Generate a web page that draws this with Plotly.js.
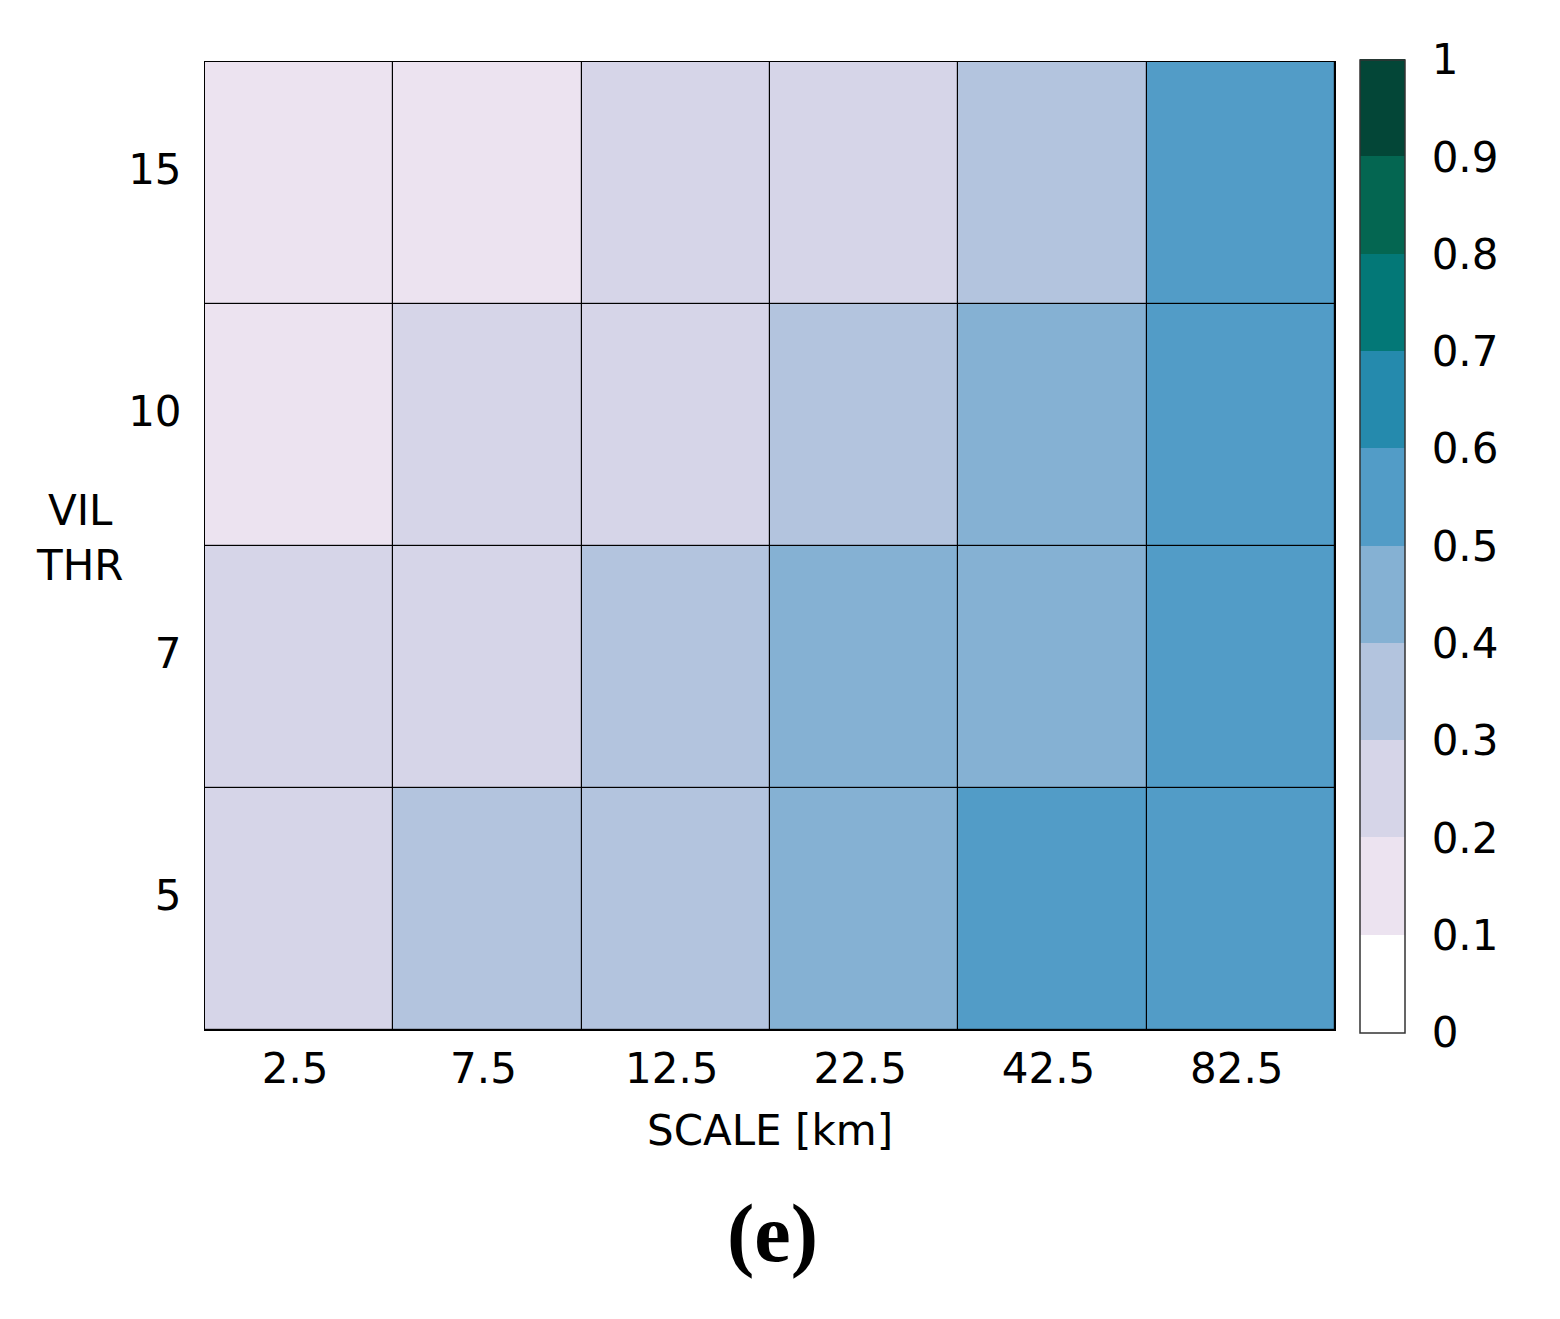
<!DOCTYPE html>
<html><head><meta charset="utf-8">
<script src="https://cdn.plot.ly/plotly-3.0.1.min.js"></script>
<style>body{margin:0;background:#fff}#chart{width:1560px;height:1319px}</style>
</head><body><div id="chart"></div>
<script>
const scales = ["2.5", "7.5", "12.5", "22.5", "42.5", "82.5"];
const thresholds = ["5", "7", "10", "15"];
const row5  = [0.25, 0.35, 0.35, 0.45, 0.55, 0.55];
const row7  = [0.25, 0.25, 0.35, 0.45, 0.45, 0.55];
const row10 = [0.15, 0.25, 0.25, 0.35, 0.45, 0.55];
const row15 = [0.15, 0.15, 0.25, 0.25, 0.35, 0.55];
const binColors = ["#ffffff", "#ece3f0", "#d6d5e8", "#b3c4de", "#85b1d3", "#529cc7", "#258aad", "#037877", "#046651", "#034637"];
const cbTicks = [0, 0.1, 0.2, 0.3, 0.4, 0.5, 0.6, 0.7, 0.8, 0.9, 1];

const cs = [];
binColors.forEach((c, i) => { cs.push([i / 10, c]); cs.push([(i + 1) / 10, c]); });

const font = "DejaVu Sans, sans-serif";
const trace = {
  type: "heatmap",
  x: scales, y: thresholds,
  z: [row5, row7, row10, row15],
  zmin: 0, zmax: 1,
  colorscale: cs,
  xgap: 1.2, ygap: 1.2,
  hoverinfo: "skip",
  colorbar: {
    x: 1.022, xanchor: "left", xpad: 0, ypad: 0,
    y: 0.5, yanchor: "middle",
    thickness: 45, thicknessmode: "pixels",
    len: 973, lenmode: "pixels",
    outlinewidth: 1.5, outlinecolor: "#333",
    tickvals: cbTicks, ticktext: cbTicks.map(String),
    ticks: "outside", ticklen: 18, tickcolor: "rgba(0,0,0,0)",
    tickfont: {family: font, size: 42, color: "#000"}
  }
};
const layout = {
  width: 1560, height: 1319,
  margin: {l: 205, r: 225, t: 62, b: 289},
  paper_bgcolor: "#fff", plot_bgcolor: "#000",
  xaxis: {type: "category", showgrid: false, zeroline: false, showline: true, mirror: true, linecolor: "#000", linewidth: 1,
    ticks: "", tickfont: {family: font, size: 42, color: "#000"}, ticklabelstandoff: 2, ticklabelshift: -4},
  yaxis: {type: "category", showgrid: false, zeroline: false, showline: true, mirror: true, linecolor: "#000", linewidth: 1,
    ticks: "", tickfont: {family: font, size: 42, color: "#000"}, ticklabelstandoff: 14, ticklabelshift: -14},
  annotations: [
    {text: "SCALE [km]", xref: "paper", yref: "paper", x: 0.50, y: -0.104, xanchor: "center", yanchor: "middle", showarrow: false,
     font: {family: font, size: 42, color: "#000"}},
    {text: "VIL<br>THR", xref: "paper", yref: "paper", x: -0.111, y: 0.508, xanchor: "center", yanchor: "middle", showarrow: false,
     font: {family: font, size: 42, color: "#000"}},
    {text: "<b>(e)</b>", xref: "paper", yref: "paper", x: 0.502, y: -0.21, xanchor: "center", yanchor: "middle", showarrow: false,
     font: {family: "Liberation Serif, serif", size: 82, color: "#000"}}
  ]
};
Plotly.newPlot("chart", [trace], layout, {displayModeBar: false, staticPlot: true});
</script></body></html>
